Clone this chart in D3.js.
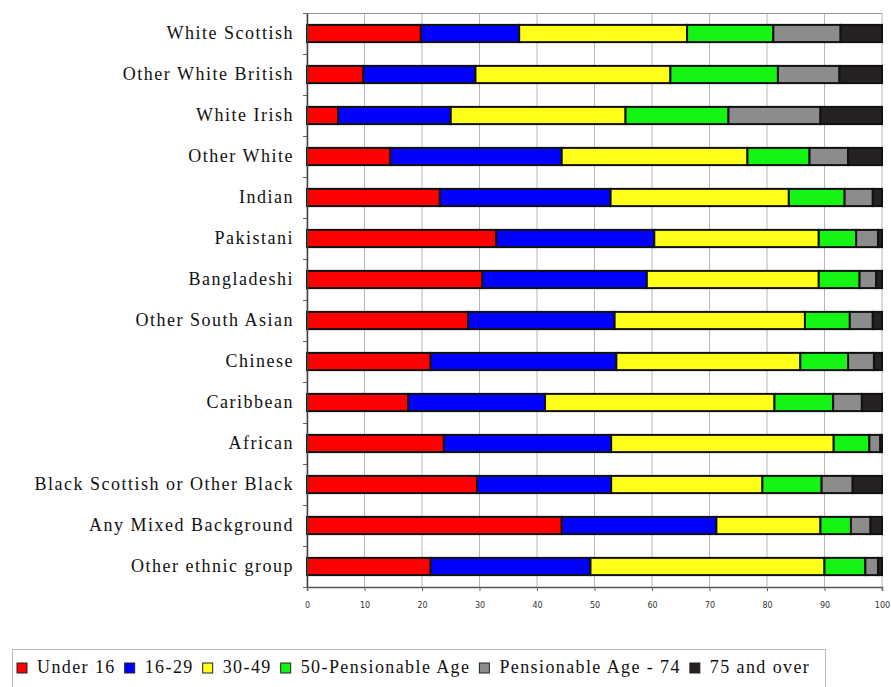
<!DOCTYPE html>
<html>
<head>
<meta charset="UTF-8">
<title>Age structure by ethnic group</title>
<script src="https://cdn.jsdelivr.net/npm/d3@7/dist/d3.min.js"></script>
<style>
  body { margin: 0; background: #fff; }
  text { font-family: "Liberation Serif", "Times New Roman", serif; }
</style>
</head>
<body>
<div id="chart"></div>
<script>
// categories, top to bottom
var groups = ["White Scottish", "Other White British", "White Irish", "Other White",
  "Indian", "Pakistani", "Bangladeshi", "Other South Asian", "Chinese", "Caribbean",
  "African", "Black Scottish or Other Black", "Any Mixed Background", "Other ethnic group"];

var ageBands = ["Under 16", "16-29", "30-49", "50-Pensionable Age", "Pensionable Age - 74", "75 and over"];
var colors = ["#ff0000", "#0000ff", "#ffff1a", "#14f514", "#8c8c8c", "#262222"];

// percentage in each age band, one array per band (same order as groups)
var under16  = [19.8,  9.8,  5.4, 14.5, 23.1, 32.9, 30.5, 28.0, 21.5, 17.6, 23.8, 29.6, 44.3, 21.5];
var age16_29 = [17.1, 19.5, 19.6, 29.8, 29.7, 27.5, 28.6, 25.5, 32.3, 23.8, 29.1, 23.3, 26.9, 27.8];
var age30_49 = [29.2, 33.9, 30.4, 32.3, 31.0, 28.6, 29.9, 33.1, 32.0, 39.9, 38.7, 26.3, 18.1, 40.7];
var age50_pa = [15.0, 18.7, 17.9, 10.8,  9.7,  6.5,  7.1,  7.8,  8.3, 10.2,  6.2, 10.3,  5.3,  7.1];
var pa_74    = [11.7, 10.7, 16.0,  6.7,  4.9,  3.8,  2.9,  4.0,  4.5,  5.0,  1.9,  5.4,  3.4,  2.2];
var over75   = [ 7.2,  7.4, 10.7,  5.9,  1.6,  0.7,  1.0,  1.6,  1.4,  3.5,  0.3,  5.1,  2.0,  0.7];

var xTicks = [0, 10, 20, 30, 40, 50, 60, 70, 80, 90, 100];

var width = 891, height = 687;
var margin = {left: 307, right: 9, top: 13, bottom: 100};

var series = [under16, age16_29, age30_49, age50_pa, pa_74, over75];
var rows = groups.map(function(g, i) {
  var r = {group: g};
  ageBands.forEach(function(b, j) { r[b] = series[j][i]; });
  return r;
});
var stacked = d3.stack().keys(ageBands)(rows);

var svg = d3.select("#chart").append("svg")
  .attr("width", width)
  .attr("height", height);

var x = d3.scaleLinear().domain([0, 100]).range([margin.left, width - margin.right]);
var y = d3.scaleBand().domain(groups).range([margin.top, height - margin.bottom]).paddingInner(0.58).paddingOuter(0.29);

// vertical grid
svg.append("g")
  .selectAll("line")
  .data(xTicks)
  .enter()
  .append("line")
  .attr("x1", function(d) { return x(d); })
  .attr("x2", function(d) { return x(d); })
  .attr("y1", margin.top)
  .attr("y2", height - margin.bottom)
  .attr("stroke", "#b8b8b8")
  .attr("stroke-width", 1);

// top frame line
svg.append("line")
  .attr("x1", margin.left).attr("x2", width - margin.right)
  .attr("y1", margin.top + 0.5).attr("y2", margin.top + 0.5)
  .attr("stroke", "#999");

// bars
svg.append("g")
  .selectAll("g")
  .data(stacked)
  .enter()
  .append("g")
  .attr("fill", function(d, i) { return colors[i]; })
  .selectAll("rect")
  .data(function(d) { return d; })
  .enter()
  .append("rect")
  .attr("x", function(d) { return x(d[0]); })
  .attr("y", function(d) { return y(d.data.group); })
  .attr("width", function(d) { return x(d[1]) - x(d[0]); })
  .attr("height", y.bandwidth())
  .attr("stroke", "#111")
  .attr("stroke-width", 2);

// x axis
var xAxis = svg.append("g")
  .attr("transform", "translate(0," + (height - margin.bottom) + ")")
  .call(d3.axisBottom(x).tickValues(xTicks).tickSize(4).tickPadding(11));
xAxis.select(".domain").attr("stroke", "#555").attr("stroke-width", 1.5);
xAxis.selectAll(".tick line").attr("stroke", "#666");
xAxis.selectAll("text")
  .style("font-family", "DejaVu Sans, sans-serif")
  .style("font-size", "8px")
  .attr("fill", "#333");

// y axis
var yAxis = svg.append("g")
  .attr("transform", "translate(" + margin.left + ",0)")
  .call(d3.axisLeft(y).tickSize(0).tickPadding(13));
yAxis.select(".domain").attr("stroke", "#444").attr("stroke-width", 1.5);
yAxis.selectAll("text")
  .style("font-size", "18px")
  .style("letter-spacing", "1.5px")
  .attr("fill", "#111");

// small tick marks between categories on left axis
var step = y.step();
svg.append("g")
  .selectAll("line")
  .data(d3.range(groups.length + 1))
  .enter()
  .append("line")
  .attr("x1", margin.left - 4)
  .attr("x2", margin.left)
  .attr("y1", function(i) { return margin.top + i * step + 0.5; })
  .attr("y2", function(i) { return margin.top + i * step + 0.5; })
  .attr("stroke", "#666");

// legend
var legend = svg.append("g").attr("transform", "translate(12,649)");
legend.append("rect")
  .attr("x", 0.5).attr("y", 0.5)
  .attr("width", 813).attr("height", 40)
  .attr("fill", "#fff")
  .attr("stroke", "#bbb");

var lx = 5;
ageBands.forEach(function(b, i) {
  var item = legend.append("g").attr("transform", "translate(" + lx + ",0)");
  item.append("rect")
    .attr("x", 0).attr("y", 14)
    .attr("width", 10).attr("height", 10)
    .attr("fill", colors[i])
    .attr("stroke", "#222")
    .attr("stroke-width", 1);
  var t = item.append("text")
    .attr("x", 20).attr("y", 24)
    .style("font-size", "18px")
    .style("letter-spacing", "1.4px")
    .attr("fill", "#111")
    .text(b);
  lx += 20 + t.node().getComputedTextLength() + 9;
});
</script>
</body>
</html>
